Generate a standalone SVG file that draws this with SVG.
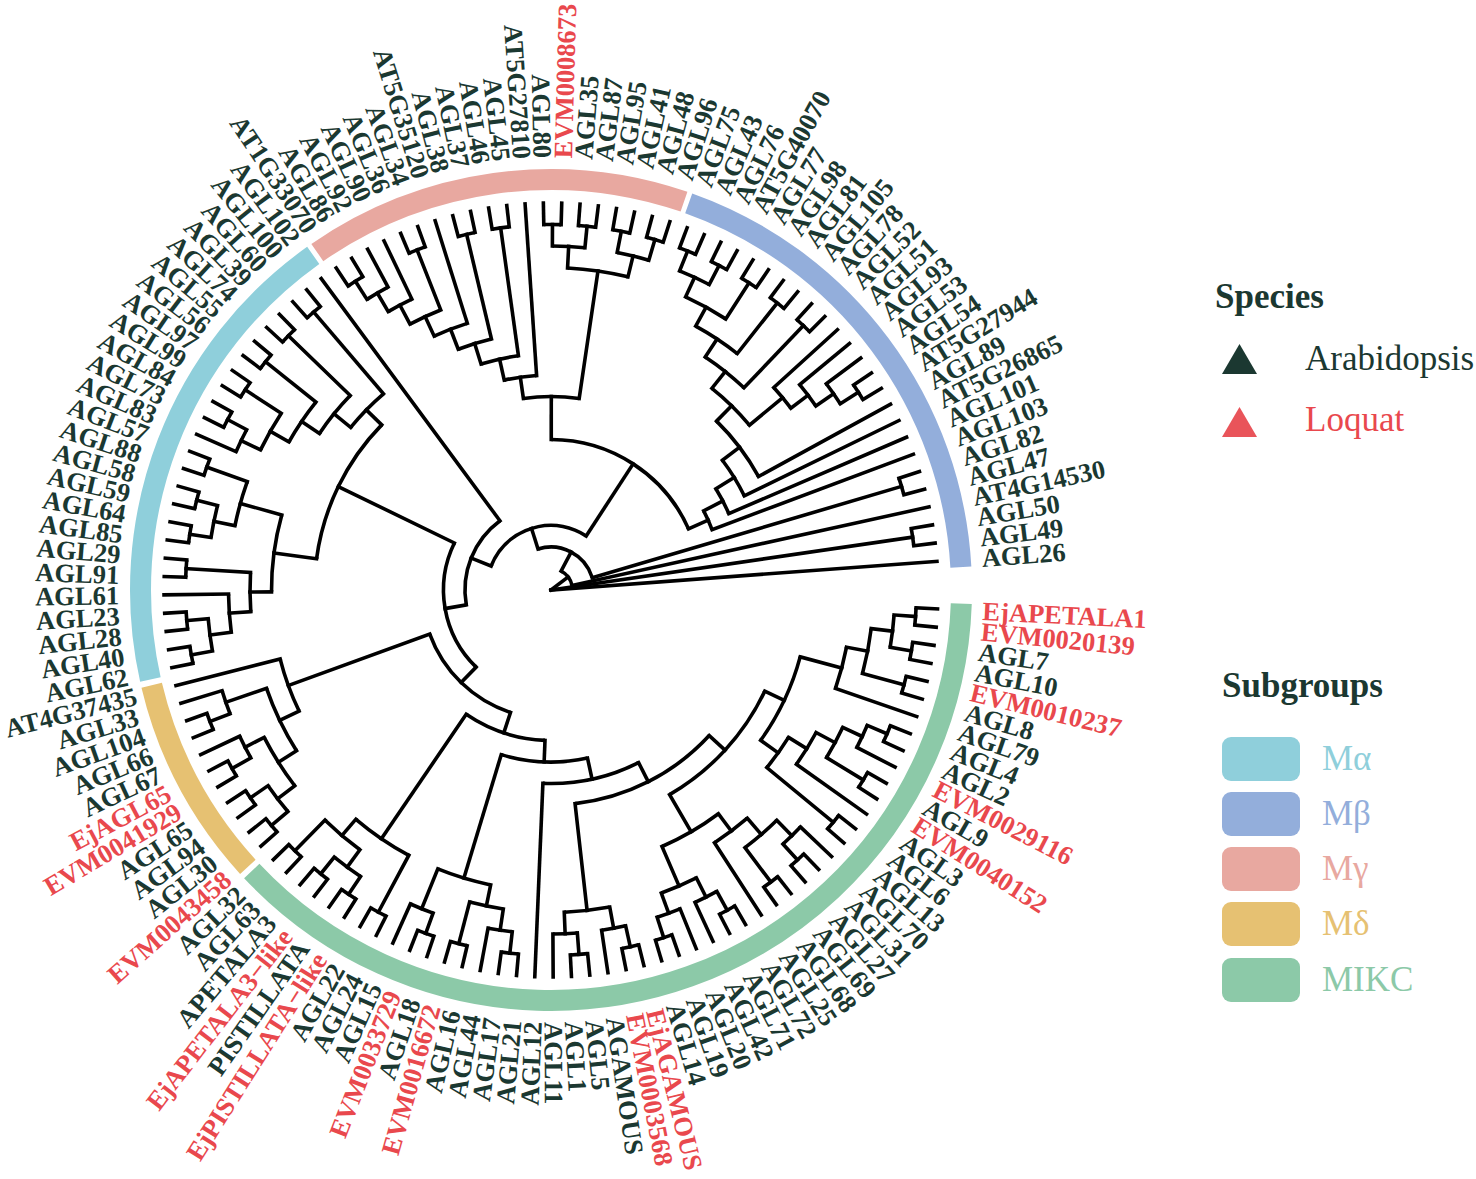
<svg xmlns="http://www.w3.org/2000/svg" width="1476" height="1179" viewBox="0 0 1476 1179">
<style>
.t line,.t circle{fill:none;stroke:#000;stroke-width:3.6}
.t line{stroke-linecap:square}
.lab text{font-family:"Liberation Serif","Times New Roman",serif;font-size:26.5px;font-weight:bold;fill:#1b3831;dominant-baseline:central}
.lab .r{fill:#e9484d}
.lab .e{text-anchor:end}
.ring circle{fill:none;stroke-width:21}
.lg{font-family:"Liberation Serif","Times New Roman",serif;font-size:35px}
.lgb{font-family:"Liberation Serif","Times New Roman",serif;font-size:35px;font-weight:bold;fill:#1b3831}
</style>
<rect width="1476" height="1179" fill="#fff"/>
<g id="ring" class="ring" transform="translate(551 590)">
<circle r="410.5" pathLength="360" stroke-dasharray="134.9 400" transform="rotate(1.9)" stroke="#8cc9a8"/>
<circle r="410.5" pathLength="360" stroke-dasharray="29 400" transform="rotate(137.6)" stroke="#e6c172"/>
<circle r="410.5" pathLength="360" stroke-dasharray="67.2 400" transform="rotate(167.4)" stroke="#8fcfdb"/>
<circle r="410.5" pathLength="360" stroke-dasharray="53.6 400" transform="rotate(235.3)" stroke="#e8a8a0"/>
<circle r="410.5" pathLength="360" stroke-dasharray="67.2 400" transform="rotate(289.6)" stroke="#93aedb"/>
</g>
<g id="connectors" class="t" transform="translate(551 590)">
<line x1="365.5" x2="387" transform="rotate(2.8)"/>
<line x1="365.5" x2="387" transform="rotate(5.52)"/>
<line x1="365.5" x2="387" transform="rotate(8.23)"/>
<line x1="365.5" x2="387" transform="rotate(10.95)"/>
<line x1="365.5" x2="387" transform="rotate(13.66)"/>
<line x1="365.5" x2="387" transform="rotate(16.38)"/>
<line x1="301" x2="387" transform="rotate(19.09)"/>
<line x1="365.5" x2="387" transform="rotate(21.81)"/>
<line x1="365.5" x2="387" transform="rotate(24.52)"/>
<line x1="344" x2="387" transform="rotate(27.24)"/>
<line x1="365.5" x2="387" transform="rotate(29.95)"/>
<line x1="365.5" x2="387" transform="rotate(32.67)"/>
<line x1="301" x2="387" transform="rotate(35.38)"/>
<line x1="365.5" x2="387" transform="rotate(38.1)"/>
<line x1="365.5" x2="387" transform="rotate(40.81)"/>
<line x1="344" x2="387" transform="rotate(43.53)"/>
<line x1="365.5" x2="387" transform="rotate(46.24)"/>
<line x1="365.5" x2="387" transform="rotate(48.96)"/>
<line x1="365.5" x2="387" transform="rotate(51.67)"/>
<line x1="365.5" x2="387" transform="rotate(54.39)"/>
<line x1="301" x2="387" transform="rotate(57.1)"/>
<line x1="365.5" x2="387" transform="rotate(59.82)"/>
<line x1="365.5" x2="387" transform="rotate(62.53)"/>
<line x1="344" x2="387" transform="rotate(65.25)"/>
<line x1="344" x2="387" transform="rotate(67.96)"/>
<line x1="365.5" x2="387" transform="rotate(70.68)"/>
<line x1="365.5" x2="387" transform="rotate(73.39)"/>
<line x1="365.5" x2="387" transform="rotate(76.11)"/>
<line x1="365.5" x2="387" transform="rotate(78.82)"/>
<line x1="344" x2="387" transform="rotate(81.54)"/>
<line x1="365.5" x2="387" transform="rotate(84.25)"/>
<line x1="365.5" x2="387" transform="rotate(86.97)"/>
<line x1="344" x2="387" transform="rotate(89.68)"/>
<line x1="193.5" x2="387" transform="rotate(92.4)"/>
<line x1="365.5" x2="387" transform="rotate(95.11)"/>
<line x1="365.5" x2="387" transform="rotate(97.83)"/>
<line x1="344" x2="387" transform="rotate(100.54)"/>
<line x1="365.5" x2="387" transform="rotate(103.26)"/>
<line x1="365.5" x2="387" transform="rotate(105.97)"/>
<line x1="365.5" x2="387" transform="rotate(108.69)"/>
<line x1="365.5" x2="387" transform="rotate(111.4)"/>
<line x1="344" x2="387" transform="rotate(114.12)"/>
<line x1="365.5" x2="387" transform="rotate(116.83)"/>
<line x1="365.5" x2="387" transform="rotate(119.55)"/>
<line x1="365.5" x2="387" transform="rotate(122.26)"/>
<line x1="365.5" x2="387" transform="rotate(124.98)"/>
<line x1="365.5" x2="387" transform="rotate(127.69)"/>
<line x1="365.5" x2="387" transform="rotate(130.41)"/>
<line x1="365.5" x2="387" transform="rotate(133.12)"/>
<line x1="365.5" x2="387" transform="rotate(135.84)"/>
<line x1="365.5" x2="387" transform="rotate(138.55)"/>
<line x1="365.5" x2="387" transform="rotate(141.27)"/>
<line x1="365.5" x2="387" transform="rotate(143.98)"/>
<line x1="365.5" x2="387" transform="rotate(146.7)"/>
<line x1="365.5" x2="387" transform="rotate(149.41)"/>
<line x1="365.5" x2="387" transform="rotate(152.13)"/>
<line x1="344" x2="387" transform="rotate(154.84)"/>
<line x1="365.5" x2="387" transform="rotate(157.56)"/>
<line x1="365.5" x2="387" transform="rotate(160.27)"/>
<line x1="344" x2="387" transform="rotate(162.99)"/>
<line x1="279.5" x2="387" transform="rotate(165.7)"/>
<line x1="365.5" x2="387" transform="rotate(168.42)"/>
<line x1="365.5" x2="387" transform="rotate(171.13)"/>
<line x1="365.5" x2="387" transform="rotate(173.85)"/>
<line x1="365.5" x2="387" transform="rotate(176.56)"/>
<line x1="322.5" x2="387" transform="rotate(179.28)"/>
<line x1="365.5" x2="387" transform="rotate(181.99)"/>
<line x1="365.5" x2="387" transform="rotate(184.71)"/>
<line x1="365.5" x2="387" transform="rotate(187.42)"/>
<line x1="365.5" x2="387" transform="rotate(190.14)"/>
<line x1="365.5" x2="387" transform="rotate(192.85)"/>
<line x1="365.5" x2="387" transform="rotate(195.57)"/>
<line x1="365.5" x2="387" transform="rotate(198.28)"/>
<line x1="365.5" x2="387" transform="rotate(201)"/>
<line x1="344" x2="387" transform="rotate(203.71)"/>
<line x1="365.5" x2="387" transform="rotate(206.43)"/>
<line x1="365.5" x2="387" transform="rotate(209.14)"/>
<line x1="365.5" x2="387" transform="rotate(211.86)"/>
<line x1="365.5" x2="387" transform="rotate(214.57)"/>
<line x1="365.5" x2="387" transform="rotate(217.29)"/>
<line x1="365.5" x2="387" transform="rotate(220)"/>
<line x1="365.5" x2="387" transform="rotate(222.72)"/>
<line x1="365.5" x2="387" transform="rotate(225.43)"/>
<line x1="365.5" x2="387" transform="rotate(228.15)"/>
<line x1="365.5" x2="387" transform="rotate(230.86)"/>
<line x1="86" x2="387" transform="rotate(233.58)"/>
<line x1="365.5" x2="387" transform="rotate(236.29)"/>
<line x1="365.5" x2="387" transform="rotate(239.01)"/>
<line x1="344" x2="387" transform="rotate(241.72)"/>
<line x1="322.5" x2="387" transform="rotate(244.44)"/>
<line x1="365.5" x2="387" transform="rotate(247.15)"/>
<line x1="365.5" x2="387" transform="rotate(249.87)"/>
<line x1="279.5" x2="387" transform="rotate(252.58)"/>
<line x1="365.5" x2="387" transform="rotate(255.3)"/>
<line x1="365.5" x2="387" transform="rotate(258.01)"/>
<line x1="365.5" x2="387" transform="rotate(260.73)"/>
<line x1="365.5" x2="387" transform="rotate(263.44)"/>
<line x1="215" x2="387" transform="rotate(266.16)"/>
<line x1="365.5" x2="387" transform="rotate(268.87)"/>
<line x1="365.5" x2="387" transform="rotate(271.59)"/>
<line x1="365.5" x2="387" transform="rotate(274.3)"/>
<line x1="365.5" x2="387" transform="rotate(277.02)"/>
<line x1="365.5" x2="387" transform="rotate(279.73)"/>
<line x1="365.5" x2="387" transform="rotate(282.45)"/>
<line x1="365.5" x2="387" transform="rotate(285.16)"/>
<line x1="365.5" x2="387" transform="rotate(287.88)"/>
<line x1="365.5" x2="387" transform="rotate(290.59)"/>
<line x1="365.5" x2="387" transform="rotate(293.31)"/>
<line x1="365.5" x2="387" transform="rotate(296.02)"/>
<line x1="365.5" x2="387" transform="rotate(298.74)"/>
<line x1="365.5" x2="387" transform="rotate(301.45)"/>
<line x1="365.5" x2="387" transform="rotate(304.17)"/>
<line x1="365.5" x2="387" transform="rotate(306.88)"/>
<line x1="365.5" x2="387" transform="rotate(309.6)"/>
<line x1="365.5" x2="387" transform="rotate(312.31)"/>
<line x1="365.5" x2="387" transform="rotate(315.03)"/>
<line x1="301" x2="387" transform="rotate(317.74)"/>
<line x1="322.5" x2="387" transform="rotate(320.46)"/>
<line x1="344" x2="387" transform="rotate(323.17)"/>
<line x1="365.5" x2="387" transform="rotate(325.89)"/>
<line x1="365.5" x2="387" transform="rotate(328.6)"/>
<line x1="236.5" x2="387" transform="rotate(331.32)"/>
<line x1="215" x2="387" transform="rotate(334.03)"/>
<line x1="193.5" x2="387" transform="rotate(336.75)"/>
<line x1="172" x2="387" transform="rotate(339.46)"/>
<line x1="365.5" x2="387" transform="rotate(342.18)"/>
<line x1="365.5" x2="387" transform="rotate(344.89)"/>
<line x1="21.5" x2="387" transform="rotate(347.61)"/>
<line x1="365.5" x2="387" transform="rotate(350.32)"/>
<line x1="365.5" x2="387" transform="rotate(353.04)"/>
<line x1="0" x2="387" transform="rotate(355.75)"/>
<line x1="344" x2="365.5" transform="rotate(4.16)"/>
<line x1="344" x2="365.5" transform="rotate(9.59)"/>
<line x1="322.5" x2="344" transform="rotate(6.875)"/>
<line x1="322.5" x2="365.5" transform="rotate(15.02)"/>
<line x1="301" x2="322.5" transform="rotate(10.9475)"/>
<line x1="258" x2="301" transform="rotate(15.02)"/>
<line x1="344" x2="365.5" transform="rotate(23.165)"/>
<line x1="322.5" x2="344" transform="rotate(25.2025)"/>
<line x1="322.5" x2="365.5" transform="rotate(31.31)"/>
<line x1="301" x2="322.5" transform="rotate(28.256)"/>
<line x1="279.5" x2="301" transform="rotate(31.818)"/>
<line x1="279.5" x2="365.5" transform="rotate(39.455)"/>
<line x1="258" x2="279.5" transform="rotate(35.637)"/>
<line x1="236.5" x2="258" transform="rotate(25.33)"/>
<line x1="344" x2="365.5" transform="rotate(47.6)"/>
<line x1="322.5" x2="344" transform="rotate(45.565)"/>
<line x1="322.5" x2="365.5" transform="rotate(53.03)"/>
<line x1="301" x2="322.5" transform="rotate(49.2975)"/>
<line x1="279.5" x2="301" transform="rotate(53.2)"/>
<line x1="344" x2="365.5" transform="rotate(61.175)"/>
<line x1="322.5" x2="344" transform="rotate(63.2125)"/>
<line x1="344" x2="365.5" transform="rotate(72.035)"/>
<line x1="322.5" x2="344" transform="rotate(69.9975)"/>
<line x1="279.5" x2="322.5" transform="rotate(66.605)"/>
<line x1="236.5" x2="279.5" transform="rotate(59.9025)"/>
<line x1="215" x2="236.5" transform="rotate(42.616)"/>
<line x1="344" x2="365.5" transform="rotate(77.465)"/>
<line x1="322.5" x2="344" transform="rotate(79.5025)"/>
<line x1="344" x2="365.5" transform="rotate(85.61)"/>
<line x1="322.5" x2="344" transform="rotate(87.645)"/>
<line x1="215" x2="322.5" transform="rotate(83.574)"/>
<line x1="193.5" x2="215" transform="rotate(63.095)"/>
<line x1="172" x2="193.5" transform="rotate(77.7475)"/>
<line x1="344" x2="365.5" transform="rotate(96.47)"/>
<line x1="322.5" x2="344" transform="rotate(98.505)"/>
<line x1="322.5" x2="365.5" transform="rotate(104.615)"/>
<line x1="301" x2="322.5" transform="rotate(101.56)"/>
<line x1="344" x2="365.5" transform="rotate(110.045)"/>
<line x1="301" x2="344" transform="rotate(112.0825)"/>
<line x1="172" x2="301" transform="rotate(106.82)"/>
<line x1="150.5" x2="172" transform="rotate(92.284)"/>
<line x1="301" x2="365.5" transform="rotate(118.19)"/>
<line x1="344" x2="365.5" transform="rotate(123.62)"/>
<line x1="344" x2="365.5" transform="rotate(129.05)"/>
<line x1="322.5" x2="344" transform="rotate(126.335)"/>
<line x1="322.5" x2="365.5" transform="rotate(134.48)"/>
<line x1="301" x2="322.5" transform="rotate(130.4075)"/>
<line x1="150.5" x2="301" transform="rotate(124.3)"/>
<line x1="129" x2="150.5" transform="rotate(108.29)"/>
<line x1="344" x2="365.5" transform="rotate(139.91)"/>
<line x1="344" x2="365.5" transform="rotate(145.34)"/>
<line x1="322.5" x2="344" transform="rotate(142.625)"/>
<line x1="344" x2="365.5" transform="rotate(150.77)"/>
<line x1="322.5" x2="344" transform="rotate(152.805)"/>
<line x1="301" x2="322.5" transform="rotate(147.715)"/>
<line x1="344" x2="365.5" transform="rotate(158.915)"/>
<line x1="301" x2="344" transform="rotate(160.9525)"/>
<line x1="279.5" x2="301" transform="rotate(154.334)"/>
<line x1="129" x2="279.5" transform="rotate(160.017)"/>
<line x1="107.5" x2="129" transform="rotate(134.15)"/>
<line x1="344" x2="365.5" transform="rotate(169.775)"/>
<line x1="344" x2="365.5" transform="rotate(175.205)"/>
<line x1="322.5" x2="344" transform="rotate(172.49)"/>
<line x1="301" x2="322.5" transform="rotate(175.885)"/>
<line x1="301" x2="365.5" transform="rotate(183.35)"/>
<line x1="279.5" x2="301" transform="rotate(179.6175)"/>
<line x1="344" x2="365.5" transform="rotate(188.78)"/>
<line x1="344" x2="365.5" transform="rotate(194.21)"/>
<line x1="322.5" x2="344" transform="rotate(191.495)"/>
<line x1="322.5" x2="365.5" transform="rotate(199.645)"/>
<line x1="279.5" x2="322.5" transform="rotate(195.57)"/>
<line x1="236.5" x2="279.5" transform="rotate(187.594)"/>
<line x1="344" x2="365.5" transform="rotate(207.785)"/>
<line x1="322.5" x2="344" transform="rotate(205.7475)"/>
<line x1="322.5" x2="365.5" transform="rotate(213.215)"/>
<line x1="301" x2="322.5" transform="rotate(209.481)"/>
<line x1="301" x2="365.5" transform="rotate(218.645)"/>
<line x1="279.5" x2="301" transform="rotate(214.063)"/>
<line x1="279.5" x2="365.5" transform="rotate(224.075)"/>
<line x1="258" x2="279.5" transform="rotate(219.069)"/>
<line x1="258" x2="365.5" transform="rotate(229.505)"/>
<line x1="236.5" x2="258" transform="rotate(224.287)"/>
<line x1="107.5" x2="236.5" transform="rotate(205.94)"/>
<line x1="86" x2="107.5" transform="rotate(170.045)"/>
<line x1="64.5" x2="86" transform="rotate(201.81)"/>
<line x1="344" x2="365.5" transform="rotate(237.65)"/>
<line x1="322.5" x2="344" transform="rotate(239.685)"/>
<line x1="301" x2="322.5" transform="rotate(242.0625)"/>
<line x1="301" x2="365.5" transform="rotate(248.51)"/>
<line x1="279.5" x2="301" transform="rotate(245.286)"/>
<line x1="258" x2="279.5" transform="rotate(248.933)"/>
<line x1="258" x2="365.5" transform="rotate(256.655)"/>
<line x1="236.5" x2="258" transform="rotate(252.794)"/>
<line x1="236.5" x2="365.5" transform="rotate(262.085)"/>
<line x1="215" x2="236.5" transform="rotate(257.44)"/>
<line x1="193.5" x2="215" transform="rotate(261.8)"/>
<line x1="344" x2="365.5" transform="rotate(270.23)"/>
<line x1="344" x2="365.5" transform="rotate(275.66)"/>
<line x1="322.5" x2="344" transform="rotate(272.945)"/>
<line x1="344" x2="365.5" transform="rotate(281.09)"/>
<line x1="344" x2="365.5" transform="rotate(286.52)"/>
<line x1="322.5" x2="344" transform="rotate(283.805)"/>
<line x1="193.5" x2="322.5" transform="rotate(278.375)"/>
<line x1="150.5" x2="193.5" transform="rotate(270.09)"/>
<line x1="344" x2="365.5" transform="rotate(291.95)"/>
<line x1="344" x2="365.5" transform="rotate(297.38)"/>
<line x1="322.5" x2="344" transform="rotate(294.665)"/>
<line x1="322.5" x2="365.5" transform="rotate(302.81)"/>
<line x1="301" x2="322.5" transform="rotate(298.7375)"/>
<line x1="301" x2="365.5" transform="rotate(308.24)"/>
<line x1="279.5" x2="301" transform="rotate(303.489)"/>
<line x1="279.5" x2="365.5" transform="rotate(313.67)"/>
<line x1="258" x2="279.5" transform="rotate(308.58)"/>
<line x1="344" x2="365.5" transform="rotate(327.245)"/>
<line x1="322.5" x2="344" transform="rotate(325.2075)"/>
<line x1="301" x2="322.5" transform="rotate(322.834)"/>
<line x1="258" x2="301" transform="rotate(320.287)"/>
<line x1="236.5" x2="258" transform="rotate(314.434)"/>
<line x1="215" x2="236.5" transform="rotate(322.877)"/>
<line x1="193.5" x2="215" transform="rotate(328.45)"/>
<line x1="172" x2="193.5" transform="rotate(332.6)"/>
<line x1="150.5" x2="172" transform="rotate(336.03)"/>
<line x1="64.5" x2="150.5" transform="rotate(303.06)"/>
<line x1="43" x2="64.5" transform="rotate(252.435)"/>
<line x1="43" x2="365.5" transform="rotate(343.535)"/>
<line x1="21.5" x2="43" transform="rotate(297.985)"/>
<line x1="0" x2="21.5" transform="rotate(322.8)"/>
<line x1="0" x2="365.5" transform="rotate(351.68)"/>
<circle r="365.5" pathLength="360" stroke-dasharray="2.72 400" transform="rotate(2.8)"/>
<circle r="365.5" pathLength="360" stroke-dasharray="2.72 400" transform="rotate(8.23)"/>
<circle r="344" pathLength="360" stroke-dasharray="5.43 400" transform="rotate(4.16)"/>
<circle r="365.5" pathLength="360" stroke-dasharray="2.72 400" transform="rotate(13.66)"/>
<circle r="322.5" pathLength="360" stroke-dasharray="8.145 400" transform="rotate(6.875)"/>
<circle r="301" pathLength="360" stroke-dasharray="8.1425 400" transform="rotate(10.9475)"/>
<circle r="365.5" pathLength="360" stroke-dasharray="2.71 400" transform="rotate(21.81)"/>
<circle r="344" pathLength="360" stroke-dasharray="4.075 400" transform="rotate(23.165)"/>
<circle r="365.5" pathLength="360" stroke-dasharray="2.72 400" transform="rotate(29.95)"/>
<circle r="322.5" pathLength="360" stroke-dasharray="6.1075 400" transform="rotate(25.2025)"/>
<circle r="301" pathLength="360" stroke-dasharray="7.124 400" transform="rotate(28.256)"/>
<circle r="365.5" pathLength="360" stroke-dasharray="2.71 400" transform="rotate(38.1)"/>
<circle r="279.5" pathLength="360" stroke-dasharray="7.637 400" transform="rotate(31.818)"/>
<circle r="258" pathLength="360" stroke-dasharray="20.617 400" transform="rotate(15.02)"/>
<circle r="365.5" pathLength="360" stroke-dasharray="2.72 400" transform="rotate(46.24)"/>
<circle r="344" pathLength="360" stroke-dasharray="4.07 400" transform="rotate(43.53)"/>
<circle r="365.5" pathLength="360" stroke-dasharray="2.72 400" transform="rotate(51.67)"/>
<circle r="322.5" pathLength="360" stroke-dasharray="7.465 400" transform="rotate(45.565)"/>
<circle r="301" pathLength="360" stroke-dasharray="7.8025 400" transform="rotate(49.2975)"/>
<circle r="365.5" pathLength="360" stroke-dasharray="2.71 400" transform="rotate(59.82)"/>
<circle r="344" pathLength="360" stroke-dasharray="4.075 400" transform="rotate(61.175)"/>
<circle r="365.5" pathLength="360" stroke-dasharray="2.71 400" transform="rotate(70.68)"/>
<circle r="344" pathLength="360" stroke-dasharray="4.075 400" transform="rotate(67.96)"/>
<circle r="322.5" pathLength="360" stroke-dasharray="6.785 400" transform="rotate(63.2125)"/>
<circle r="279.5" pathLength="360" stroke-dasharray="13.405 400" transform="rotate(53.2)"/>
<circle r="236.5" pathLength="360" stroke-dasharray="34.5725 400" transform="rotate(25.33)"/>
<circle r="365.5" pathLength="360" stroke-dasharray="2.71 400" transform="rotate(76.11)"/>
<circle r="344" pathLength="360" stroke-dasharray="4.075 400" transform="rotate(77.465)"/>
<circle r="365.5" pathLength="360" stroke-dasharray="2.72 400" transform="rotate(84.25)"/>
<circle r="344" pathLength="360" stroke-dasharray="4.07 400" transform="rotate(85.61)"/>
<circle r="322.5" pathLength="360" stroke-dasharray="8.1425 400" transform="rotate(79.5025)"/>
<circle r="215" pathLength="360" stroke-dasharray="40.958 400" transform="rotate(42.616)"/>
<circle r="193.5" pathLength="360" stroke-dasharray="29.305 400" transform="rotate(63.095)"/>
<circle r="365.5" pathLength="360" stroke-dasharray="2.72 400" transform="rotate(95.11)"/>
<circle r="344" pathLength="360" stroke-dasharray="4.07 400" transform="rotate(96.47)"/>
<circle r="365.5" pathLength="360" stroke-dasharray="2.71 400" transform="rotate(103.26)"/>
<circle r="322.5" pathLength="360" stroke-dasharray="6.11 400" transform="rotate(98.505)"/>
<circle r="365.5" pathLength="360" stroke-dasharray="2.71 400" transform="rotate(108.69)"/>
<circle r="344" pathLength="360" stroke-dasharray="4.075 400" transform="rotate(110.045)"/>
<circle r="301" pathLength="360" stroke-dasharray="10.5225 400" transform="rotate(101.56)"/>
<circle r="172" pathLength="360" stroke-dasharray="29.0725 400" transform="rotate(77.7475)"/>
<circle r="365.5" pathLength="360" stroke-dasharray="2.72 400" transform="rotate(116.83)"/>
<circle r="365.5" pathLength="360" stroke-dasharray="2.72 400" transform="rotate(122.26)"/>
<circle r="365.5" pathLength="360" stroke-dasharray="2.72 400" transform="rotate(127.69)"/>
<circle r="365.5" pathLength="360" stroke-dasharray="2.72 400" transform="rotate(133.12)"/>
<circle r="344" pathLength="360" stroke-dasharray="5.43 400" transform="rotate(123.62)"/>
<circle r="322.5" pathLength="360" stroke-dasharray="8.145 400" transform="rotate(126.335)"/>
<circle r="301" pathLength="360" stroke-dasharray="12.2175 400" transform="rotate(118.19)"/>
<circle r="150.5" pathLength="360" stroke-dasharray="32.016 400" transform="rotate(92.284)"/>
<circle r="365.5" pathLength="360" stroke-dasharray="2.72 400" transform="rotate(138.55)"/>
<circle r="365.5" pathLength="360" stroke-dasharray="2.72 400" transform="rotate(143.98)"/>
<circle r="344" pathLength="360" stroke-dasharray="5.43 400" transform="rotate(139.91)"/>
<circle r="365.5" pathLength="360" stroke-dasharray="2.72 400" transform="rotate(149.41)"/>
<circle r="344" pathLength="360" stroke-dasharray="4.07 400" transform="rotate(150.77)"/>
<circle r="322.5" pathLength="360" stroke-dasharray="10.18 400" transform="rotate(142.625)"/>
<circle r="365.5" pathLength="360" stroke-dasharray="2.71 400" transform="rotate(157.56)"/>
<circle r="344" pathLength="360" stroke-dasharray="4.075 400" transform="rotate(158.915)"/>
<circle r="301" pathLength="360" stroke-dasharray="13.2375 400" transform="rotate(147.715)"/>
<circle r="279.5" pathLength="360" stroke-dasharray="11.366 400" transform="rotate(154.334)"/>
<circle r="129" pathLength="360" stroke-dasharray="51.727 400" transform="rotate(108.29)"/>
<circle r="365.5" pathLength="360" stroke-dasharray="2.71 400" transform="rotate(168.42)"/>
<circle r="365.5" pathLength="360" stroke-dasharray="2.71 400" transform="rotate(173.85)"/>
<circle r="344" pathLength="360" stroke-dasharray="5.43 400" transform="rotate(169.775)"/>
<circle r="322.5" pathLength="360" stroke-dasharray="6.79 400" transform="rotate(172.49)"/>
<circle r="365.5" pathLength="360" stroke-dasharray="2.72 400" transform="rotate(181.99)"/>
<circle r="301" pathLength="360" stroke-dasharray="7.465 400" transform="rotate(175.885)"/>
<circle r="365.5" pathLength="360" stroke-dasharray="2.72 400" transform="rotate(187.42)"/>
<circle r="365.5" pathLength="360" stroke-dasharray="2.72 400" transform="rotate(192.85)"/>
<circle r="344" pathLength="360" stroke-dasharray="5.43 400" transform="rotate(188.78)"/>
<circle r="365.5" pathLength="360" stroke-dasharray="2.72 400" transform="rotate(198.28)"/>
<circle r="322.5" pathLength="360" stroke-dasharray="8.15 400" transform="rotate(191.495)"/>
<circle r="279.5" pathLength="360" stroke-dasharray="15.9525 400" transform="rotate(179.6175)"/>
<circle r="365.5" pathLength="360" stroke-dasharray="2.71 400" transform="rotate(206.43)"/>
<circle r="344" pathLength="360" stroke-dasharray="4.075 400" transform="rotate(203.71)"/>
<circle r="365.5" pathLength="360" stroke-dasharray="2.71 400" transform="rotate(211.86)"/>
<circle r="322.5" pathLength="360" stroke-dasharray="7.4675 400" transform="rotate(205.7475)"/>
<circle r="365.5" pathLength="360" stroke-dasharray="2.71 400" transform="rotate(217.29)"/>
<circle r="301" pathLength="360" stroke-dasharray="9.164 400" transform="rotate(209.481)"/>
<circle r="365.5" pathLength="360" stroke-dasharray="2.71 400" transform="rotate(222.72)"/>
<circle r="279.5" pathLength="360" stroke-dasharray="10.012 400" transform="rotate(214.063)"/>
<circle r="365.5" pathLength="360" stroke-dasharray="2.71 400" transform="rotate(228.15)"/>
<circle r="258" pathLength="360" stroke-dasharray="10.436 400" transform="rotate(219.069)"/>
<circle r="236.5" pathLength="360" stroke-dasharray="36.693 400" transform="rotate(187.594)"/>
<circle r="107.5" pathLength="360" stroke-dasharray="71.79 400" transform="rotate(134.15)"/>
<circle r="86" pathLength="360" stroke-dasharray="63.535 400" transform="rotate(170.045)"/>
<circle r="365.5" pathLength="360" stroke-dasharray="2.72 400" transform="rotate(236.29)"/>
<circle r="344" pathLength="360" stroke-dasharray="4.07 400" transform="rotate(237.65)"/>
<circle r="322.5" pathLength="360" stroke-dasharray="4.755 400" transform="rotate(239.685)"/>
<circle r="365.5" pathLength="360" stroke-dasharray="2.72 400" transform="rotate(247.15)"/>
<circle r="301" pathLength="360" stroke-dasharray="6.4475 400" transform="rotate(242.0625)"/>
<circle r="279.5" pathLength="360" stroke-dasharray="7.294 400" transform="rotate(245.286)"/>
<circle r="365.5" pathLength="360" stroke-dasharray="2.71 400" transform="rotate(255.3)"/>
<circle r="258" pathLength="360" stroke-dasharray="7.722 400" transform="rotate(248.933)"/>
<circle r="365.5" pathLength="360" stroke-dasharray="2.71 400" transform="rotate(260.73)"/>
<circle r="236.5" pathLength="360" stroke-dasharray="9.291 400" transform="rotate(252.794)"/>
<circle r="215" pathLength="360" stroke-dasharray="8.72 400" transform="rotate(257.44)"/>
<circle r="365.5" pathLength="360" stroke-dasharray="2.72 400" transform="rotate(268.87)"/>
<circle r="365.5" pathLength="360" stroke-dasharray="2.72 400" transform="rotate(274.3)"/>
<circle r="344" pathLength="360" stroke-dasharray="5.43 400" transform="rotate(270.23)"/>
<circle r="365.5" pathLength="360" stroke-dasharray="2.72 400" transform="rotate(279.73)"/>
<circle r="365.5" pathLength="360" stroke-dasharray="2.72 400" transform="rotate(285.16)"/>
<circle r="344" pathLength="360" stroke-dasharray="5.43 400" transform="rotate(281.09)"/>
<circle r="322.5" pathLength="360" stroke-dasharray="10.86 400" transform="rotate(272.945)"/>
<circle r="193.5" pathLength="360" stroke-dasharray="16.575 400" transform="rotate(261.8)"/>
<circle r="365.5" pathLength="360" stroke-dasharray="2.72 400" transform="rotate(290.59)"/>
<circle r="365.5" pathLength="360" stroke-dasharray="2.72 400" transform="rotate(296.02)"/>
<circle r="344" pathLength="360" stroke-dasharray="5.43 400" transform="rotate(291.95)"/>
<circle r="365.5" pathLength="360" stroke-dasharray="2.72 400" transform="rotate(301.45)"/>
<circle r="322.5" pathLength="360" stroke-dasharray="8.145 400" transform="rotate(294.665)"/>
<circle r="365.5" pathLength="360" stroke-dasharray="2.72 400" transform="rotate(306.88)"/>
<circle r="301" pathLength="360" stroke-dasharray="9.5025 400" transform="rotate(298.7375)"/>
<circle r="365.5" pathLength="360" stroke-dasharray="2.72 400" transform="rotate(312.31)"/>
<circle r="279.5" pathLength="360" stroke-dasharray="10.181 400" transform="rotate(303.489)"/>
<circle r="365.5" pathLength="360" stroke-dasharray="2.71 400" transform="rotate(325.89)"/>
<circle r="344" pathLength="360" stroke-dasharray="4.075 400" transform="rotate(323.17)"/>
<circle r="322.5" pathLength="360" stroke-dasharray="4.7475 400" transform="rotate(320.46)"/>
<circle r="301" pathLength="360" stroke-dasharray="5.094 400" transform="rotate(317.74)"/>
<circle r="258" pathLength="360" stroke-dasharray="11.707 400" transform="rotate(308.58)"/>
<circle r="236.5" pathLength="360" stroke-dasharray="16.886 400" transform="rotate(314.434)"/>
<circle r="215" pathLength="360" stroke-dasharray="11.153 400" transform="rotate(322.877)"/>
<circle r="193.5" pathLength="360" stroke-dasharray="8.3 400" transform="rotate(328.45)"/>
<circle r="172" pathLength="360" stroke-dasharray="6.86 400" transform="rotate(332.6)"/>
<circle r="150.5" pathLength="360" stroke-dasharray="65.94 400" transform="rotate(270.09)"/>
<circle r="64.5" pathLength="360" stroke-dasharray="101.25 400" transform="rotate(201.81)"/>
<circle r="365.5" pathLength="360" stroke-dasharray="2.71 400" transform="rotate(342.18)"/>
<circle r="43" pathLength="360" stroke-dasharray="91.1 400" transform="rotate(252.435)"/>
<circle r="21.5" pathLength="360" stroke-dasharray="49.625 400" transform="rotate(297.985)"/>
<circle r="365.5" pathLength="360" stroke-dasharray="2.72 400" transform="rotate(350.32)"/>
</g>
<g class="lab" transform="translate(551 590)">
<g id="n1"><text class="r" transform="rotate(2.8) translate(432)">EjAPETALA1</text></g>
<g id="n2"><text class="r" transform="rotate(5.52) translate(432)">EVM0020139</text></g>
<g id="n3"><text transform="rotate(8.23) translate(432)">AGL7</text></g>
<g id="n4"><text transform="rotate(10.95) translate(432)">AGL10</text></g>
<g id="n5"><text class="r" transform="rotate(13.66) translate(432)">EVM0010237</text></g>
<g id="n6"><text transform="rotate(16.38) translate(432)">AGL8</text></g>
<g id="n7"><text transform="rotate(19.09) translate(432)">AGL79</text></g>
<g id="n8"><text transform="rotate(21.81) translate(432)">AGL4</text></g>
<g id="n9"><text transform="rotate(24.52) translate(432)">AGL2</text></g>
<g id="n10"><text class="r" transform="rotate(27.24) translate(432)">EVM0029116</text></g>
<g id="n11"><text transform="rotate(29.95) translate(432)">AGL9</text></g>
<g id="n12"><text class="r" transform="rotate(32.67) translate(432)">EVM0040152</text></g>
<g id="n13"><text transform="rotate(35.38) translate(432)">AGL3</text></g>
<g id="n14"><text transform="rotate(38.1) translate(432)">AGL6</text></g>
<g id="n15"><text transform="rotate(40.81) translate(432)">AGL13</text></g>
<g id="n16"><text transform="rotate(43.53) translate(432)">AGL70</text></g>
<g id="n17"><text transform="rotate(46.24) translate(432)">AGL31</text></g>
<g id="n18"><text transform="rotate(48.96) translate(432)">AGL27</text></g>
<g id="n19"><text transform="rotate(51.67) translate(432)">AGL69</text></g>
<g id="n20"><text transform="rotate(54.39) translate(432)">AGL68</text></g>
<g id="n21"><text transform="rotate(57.1) translate(432)">AGL25</text></g>
<g id="n22"><text transform="rotate(59.82) translate(432)">AGL72</text></g>
<g id="n23"><text transform="rotate(62.53) translate(432)">AGL71</text></g>
<g id="n24"><text transform="rotate(65.25) translate(432)">AGL42</text></g>
<g id="n25"><text transform="rotate(67.96) translate(432)">AGL20</text></g>
<g id="n26"><text transform="rotate(70.68) translate(432)">AGL19</text></g>
<g id="n27"><text transform="rotate(73.39) translate(432)">AGL14</text></g>
<g id="n28"><text class="r" transform="rotate(76.11) translate(432)">EjAGAMOUS</text></g>
<g id="n29"><text class="r" transform="rotate(78.82) translate(432)">EVM0003568</text></g>
<g id="n30"><text transform="rotate(81.54) translate(432)">AGAMOUS</text></g>
<g id="n31"><text transform="rotate(84.25) translate(432)">AGL5</text></g>
<g id="n32"><text transform="rotate(86.97) translate(432)">AGL1</text></g>
<g id="n33"><text transform="rotate(89.68) translate(432)">AGL11</text></g>
<g id="n34"><text class="e" transform="rotate(-87.6) translate(-432)">AGL12</text></g>
<g id="n35"><text class="e" transform="rotate(-84.89) translate(-432)">AGL21</text></g>
<g id="n36"><text class="e" transform="rotate(-82.17) translate(-432)">AGL17</text></g>
<g id="n37"><text class="e" transform="rotate(-79.46) translate(-432)">AGL44</text></g>
<g id="n38"><text class="e" transform="rotate(-76.74) translate(-432)">AGL16</text></g>
<g id="n39"><text class="e r" transform="rotate(-74.03) translate(-432)">EVM0016672</text></g>
<g id="n40"><text class="e" transform="rotate(-71.31) translate(-432)">AGL18</text></g>
<g id="n41"><text class="e r" transform="rotate(-68.6) translate(-432)">EVM0033729</text></g>
<g id="n42"><text class="e" transform="rotate(-65.88) translate(-432)">AGL15</text></g>
<g id="n43"><text class="e" transform="rotate(-63.17) translate(-432)">AGL24</text></g>
<g id="n44"><text class="e" transform="rotate(-60.45) translate(-432)">AGL22</text></g>
<g id="n45"><text class="e r" transform="rotate(-57.74) translate(-432)">EjPISTILLATA−like</text></g>
<g id="n46"><text class="e" transform="rotate(-55.02) translate(-432)">PISTILLATA</text></g>
<g id="n47"><text class="e r" transform="rotate(-52.31) translate(-432)">EjAPETALA3−like</text></g>
<g id="n48"><text class="e" transform="rotate(-49.59) translate(-432)">APETALA3</text></g>
<g id="n49"><text class="e" transform="rotate(-46.88) translate(-432)">AGL63</text></g>
<g id="n50"><text class="e" transform="rotate(-44.16) translate(-432)">AGL32</text></g>
<g id="n51"><text class="e r" transform="rotate(-41.45) translate(-432)">EVM0043458</text></g>
<g id="n52"><text class="e" transform="rotate(-38.73) translate(-432)">AGL30</text></g>
<g id="n53"><text class="e" transform="rotate(-36.02) translate(-432)">AGL94</text></g>
<g id="n54"><text class="e" transform="rotate(-33.3) translate(-432)">AGL65</text></g>
<g id="n55"><text class="e r" transform="rotate(-30.59) translate(-432)">EVM0041929</text></g>
<g id="n56"><text class="e r" transform="rotate(-27.87) translate(-432)">EjAGL65</text></g>
<g id="n57"><text class="e" transform="rotate(-25.16) translate(-432)">AGL67</text></g>
<g id="n58"><text class="e" transform="rotate(-22.44) translate(-432)">AGL66</text></g>
<g id="n59"><text class="e" transform="rotate(-19.73) translate(-432)">AGL104</text></g>
<g id="n60"><text class="e" transform="rotate(-17.01) translate(-432)">AGL33</text></g>
<g id="n61"><text class="e" transform="rotate(-14.3) translate(-428)">AT4G37435</text></g>
<g id="n62"><text class="e" transform="rotate(-11.58) translate(-432)">AGL62</text></g>
<g id="n63"><text class="e" transform="rotate(-8.87) translate(-432)">AGL40</text></g>
<g id="n64"><text class="e" transform="rotate(-6.15) translate(-432)">AGL28</text></g>
<g id="n65"><text class="e" transform="rotate(-3.44) translate(-432)">AGL23</text></g>
<g id="n66"><text class="e" transform="rotate(-0.72) translate(-432)">AGL61</text></g>
<g id="n67"><text class="e" transform="rotate(1.99) translate(-432)">AGL91</text></g>
<g id="n68"><text class="e" transform="rotate(4.71) translate(-432)">AGL29</text></g>
<g id="n69"><text class="e" transform="rotate(7.42) translate(-432)">AGL85</text></g>
<g id="n70"><text class="e" transform="rotate(10.14) translate(-432)">AGL64</text></g>
<g id="n71"><text class="e" transform="rotate(12.85) translate(-432)">AGL59</text></g>
<g id="n72"><text class="e" transform="rotate(15.57) translate(-432)">AGL58</text></g>
<g id="n73"><text class="e" transform="rotate(18.28) translate(-432)">AGL88</text></g>
<g id="n74"><text class="e" transform="rotate(21) translate(-432)">AGL57</text></g>
<g id="n75"><text class="e" transform="rotate(23.71) translate(-432)">AGL83</text></g>
<g id="n76"><text class="e" transform="rotate(26.43) translate(-432)">AGL73</text></g>
<g id="n77"><text class="e" transform="rotate(29.14) translate(-432)">AGL84</text></g>
<g id="n78"><text class="e" transform="rotate(31.86) translate(-432)">AGL99</text></g>
<g id="n79"><text class="e" transform="rotate(34.57) translate(-432)">AGL97</text></g>
<g id="n80"><text class="e" transform="rotate(37.29) translate(-432)">AGL56</text></g>
<g id="n81"><text class="e" transform="rotate(40) translate(-432)">AGL55</text></g>
<g id="n82"><text class="e" transform="rotate(42.72) translate(-432)">AGL74</text></g>
<g id="n83"><text class="e" transform="rotate(45.43) translate(-432)">AGL39</text></g>
<g id="n84"><text class="e" transform="rotate(48.15) translate(-432)">AGL60</text></g>
<g id="n85"><text class="e" transform="rotate(50.86) translate(-432)">AGL100</text></g>
<g id="n86"><text class="e" transform="rotate(53.58) translate(-432)">AGL102</text></g>
<g id="n87"><text class="e" transform="rotate(56.29) translate(-432)">AT1G33070</text></g>
<g id="n88"><text class="e" transform="rotate(59.01) translate(-432)">AGL86</text></g>
<g id="n89"><text class="e" transform="rotate(61.72) translate(-432)">AGL92</text></g>
<g id="n90"><text class="e" transform="rotate(64.44) translate(-432)">AGL90</text></g>
<g id="n91"><text class="e" transform="rotate(67.15) translate(-432)">AGL36</text></g>
<g id="n92"><text class="e" transform="rotate(69.87) translate(-432)">AGL34</text></g>
<g id="n93"><text class="e" transform="rotate(72.58) translate(-432)">AT5G35120</text></g>
<g id="n94"><text class="e" transform="rotate(75.3) translate(-432)">AGL38</text></g>
<g id="n95"><text class="e" transform="rotate(78.01) translate(-432)">AGL37</text></g>
<g id="n96"><text class="e" transform="rotate(80.73) translate(-432)">AGL46</text></g>
<g id="n97"><text class="e" transform="rotate(83.44) translate(-432)">AGL45</text></g>
<g id="n98"><text class="e" transform="rotate(86.16) translate(-432)">AT5G27810</text></g>
<g id="n99"><text class="e" transform="rotate(88.87) translate(-432)">AGL80</text></g>
<g id="n100"><text class="r" transform="rotate(271.59) translate(432)">EVM0008673</text></g>
<g id="n101"><text transform="rotate(274.3) translate(432)">AGL35</text></g>
<g id="n102"><text transform="rotate(277.02) translate(432)">AGL87</text></g>
<g id="n103"><text transform="rotate(279.73) translate(432)">AGL95</text></g>
<g id="n104"><text transform="rotate(282.45) translate(432)">AGL41</text></g>
<g id="n105"><text transform="rotate(285.16) translate(432)">AGL48</text></g>
<g id="n106"><text transform="rotate(287.88) translate(432)">AGL96</text></g>
<g id="n107"><text transform="rotate(290.59) translate(432)">AGL75</text></g>
<g id="n108"><text transform="rotate(293.31) translate(432)">AGL43</text></g>
<g id="n109"><text transform="rotate(296.02) translate(432)">AGL76</text></g>
<g id="n110"><text transform="rotate(298.74) translate(432)">AT5G40070</text></g>
<g id="n111"><text transform="rotate(301.45) translate(432)">AGL77</text></g>
<g id="n112"><text transform="rotate(304.17) translate(432)">AGL98</text></g>
<g id="n113"><text transform="rotate(306.88) translate(432)">AGL81</text></g>
<g id="n114"><text transform="rotate(309.6) translate(432)">AGL105</text></g>
<g id="n115"><text transform="rotate(312.31) translate(432)">AGL78</text></g>
<g id="n116"><text transform="rotate(315.03) translate(432)">AGL52</text></g>
<g id="n117"><text transform="rotate(317.74) translate(432)">AGL51</text></g>
<g id="n118"><text transform="rotate(320.46) translate(432)">AGL93</text></g>
<g id="n119"><text transform="rotate(323.17) translate(432)">AGL53</text></g>
<g id="n120"><text transform="rotate(325.89) translate(432)">AGL54</text></g>
<g id="n121"><text transform="rotate(328.6) translate(432)">AT5G27944</text></g>
<g id="n122"><text transform="rotate(331.32) translate(432)">AGL89</text></g>
<g id="n123"><text transform="rotate(334.03) translate(432)">AT5G26865</text></g>
<g id="n124"><text transform="rotate(336.75) translate(432)">AGL101</text></g>
<g id="n125"><text transform="rotate(339.46) translate(432)">AGL103</text></g>
<g id="n126"><text transform="rotate(342.18) translate(432)">AGL82</text></g>
<g id="n127"><text transform="rotate(344.89) translate(432)">AGL47</text></g>
<g id="n128"><text transform="rotate(347.61) translate(432)">AT4G14530</text></g>
<g id="n129"><text transform="rotate(350.32) translate(432)">AGL50</text></g>
<g id="n130"><text transform="rotate(353.04) translate(432)">AGL49</text></g>
<g id="n131"><text transform="rotate(355.75) translate(432)">AGL26</text></g>
</g>
<g id="legend-species">
<text class="lgb" x="1215" y="308">Species</text>
<polygon points="1222,374 1257,374 1239.5,344" fill="#1b3831"/>
<text class="lg" x="1305" y="370" fill="#1b3831">Arabidopsis</text>
<polygon points="1222,437 1257,437 1239.5,407" fill="#e9545a"/>
<text class="lg" x="1305" y="431" fill="#e9484d">Loquat</text>
</g>
<g id="legend-subgroups">
<text class="lgb" x="1222" y="697">Subgroups</text>
<rect x="1222" y="737" width="78" height="44" rx="9" fill="#8fcfdb"/>
<text class="lg" x="1322" y="770" fill="#8fcfdb">Mα</text>
<rect x="1222" y="792" width="78" height="44" rx="9" fill="#93aedb"/>
<text class="lg" x="1322" y="825" fill="#93aedb">Mβ</text>
<rect x="1222" y="847" width="78" height="44" rx="9" fill="#e8a8a0"/>
<text class="lg" x="1322" y="880" fill="#e8a8a0">Mγ</text>
<rect x="1222" y="902" width="78" height="44" rx="9" fill="#e6c172"/>
<text class="lg" x="1322" y="935" fill="#e6c172">Mδ</text>
<rect x="1222" y="958" width="78" height="44" rx="9" fill="#8cc9a8"/>
<text class="lg" x="1322" y="991" fill="#8cc9a8">MIKC</text>
</g>
</svg>
